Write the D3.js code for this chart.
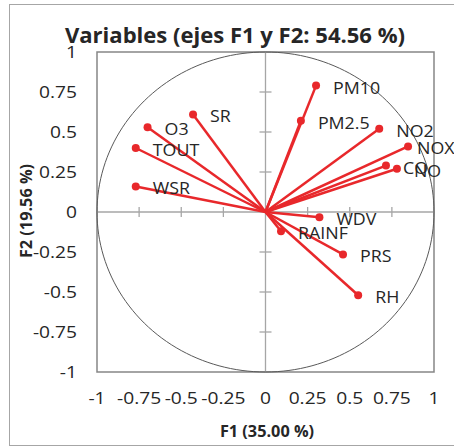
<!DOCTYPE html>
<html>
<head>
<meta charset="utf-8">
<script src="https://cdn.jsdelivr.net/npm/d3@7"></script>
<style>
  html, body { margin: 0; padding: 0; background: #ffffff; }
  svg { display: block; }
  text { font-family: "Open Sans", "DejaVu Sans", sans-serif; fill: #262626; }
</style>
</head>
<body>
<svg id="chart" width="454" height="447"></svg>
<script>
// ---- data ----
const variables = ["SR", "O3", "TOUT", "WSR", "PM10", "PM2.5", "NO2", "NOX", "CO", "NO", "WDV", "RAINF", "PRS", "RH"];
const f1Values = [-0.43, -0.70, -0.77, -0.77, 0.30, 0.21, 0.675, 0.846, 0.715, 0.78, 0.32, 0.092, 0.46, 0.55];
const f2Values = [0.61, 0.53, 0.40, 0.16, 0.79, 0.57, 0.52, 0.41, 0.29, 0.27, -0.033, -0.12, -0.265, -0.52];
const tickValues = [-1, -0.75, -0.5, -0.25, 0, 0.25, 0.5, 0.75, 1];
const tickLabels = ["-1", "-0.75", "-0.5", "-0.25", "0", "0.25", "0.5", "0.75", "1"];
const titleText = "Variables (ejes F1 y F2: 54.56 %)";
const xTitle = "F1 (35.00 %)";
const yTitle = "F2 (19.56 %)";

// ---- layout ----
const svg = d3.select("#chart");
const plot = { left: 97, right: 434, top: 52, bottom: 372 };
const x = d3.scaleLinear().domain([-1, 1]).range([plot.left, plot.right]);
const y = d3.scaleLinear().domain([-1, 1]).range([plot.bottom, plot.top]);
const red = "#e8282b";
const sx = 1.2; // horizontal text stretch

// outer frame
svg.append("rect")
  .attr("x", 9.5).attr("y", 4.5).attr("width", 470).attr("height", 441)
  .attr("fill", "none").attr("stroke", "#a6a6a6").attr("stroke-width", 1);

// plot border
svg.append("rect")
  .attr("x", plot.left).attr("y", plot.top)
  .attr("width", plot.right - plot.left).attr("height", plot.bottom - plot.top)
  .attr("fill", "none").attr("stroke", "#868686").attr("stroke-width", 1.5);

// zero axes with crossing ticks
const g0 = svg.append("g").attr("stroke", "#a6a6a6").attr("stroke-width", 1.3);
g0.append("line").attr("x1", x(-1)).attr("x2", x(1)).attr("y1", y(0)).attr("y2", y(0));
g0.append("line").attr("x1", x(0)).attr("x2", x(0)).attr("y1", y(-1)).attr("y2", y(1));
g0.selectAll(".tx").data(tickValues.filter(v => Math.abs(v) < 1 && v !== 0)).join("line")
  .attr("x1", d => x(d)).attr("x2", d => x(d)).attr("y1", y(0) - 5).attr("y2", y(0) + 5);
g0.selectAll(".ty").data(tickValues.filter(v => Math.abs(v) < 1 && v !== 0)).join("line")
  .attr("class", "ty")
  .attr("x1", x(0) - 6).attr("x2", x(0) + 6).attr("y1", d => y(d)).attr("y2", d => y(d));

// correlation circle
const circ = d3.range(0, 361, 2).map(a => [Math.cos(a * Math.PI / 180), Math.sin(a * Math.PI / 180)]);
svg.append("path")
  .attr("d", d3.line().x(d => x(d[0])).y(d => y(d[1])).curve(d3.curveLinearClosed)(circ))
  .attr("fill", "none").attr("stroke", "#595959").attr("stroke-width", 1);

// tick labels
svg.append("g").selectAll("text").data(tickValues).join("text")
  .attr("transform", d => `translate(77,${y(d)}) scale(${sx},1)`)
  .attr("text-anchor", "end").attr("dominant-baseline", "central")
  .attr("font-size", 16)
  .text((d, i) => tickLabels[i]);
svg.append("g").selectAll("text").data(tickValues).join("text")
  .attr("transform", d => `translate(${x(d)},398) scale(${sx},1)`)
  .attr("text-anchor", "middle").attr("dominant-baseline", "central")
  .attr("font-size", 16)
  .text((d, i) => tickLabels[i]);

// titles
svg.append("text")
  .attr("transform", `translate(235,43) scale(1.05,1)`)
  .attr("text-anchor", "middle").attr("font-size", 21).attr("font-weight", "bold")
  .text(titleText);
svg.append("text")
  .attr("transform", `translate(267,431) scale(1.05,1)`)
  .attr("text-anchor", "middle").attr("dominant-baseline", "central")
  .attr("font-size", 15.5).attr("font-weight", "bold")
  .text(xTitle);
svg.append("text")
  .attr("transform", `translate(26,211) rotate(-90) scale(1.05,1)`)
  .attr("text-anchor", "middle").attr("dominant-baseline", "central")
  .attr("font-size", 15.5).attr("font-weight", "bold")
  .text(yTitle);

// vectors
const pts = variables.map((v, i) => ({ name: v, f1: f1Values[i], f2: f2Values[i] }));
svg.append("g").selectAll("line").data(pts).join("line")
  .attr("x1", x(0)).attr("y1", y(0))
  .attr("x2", d => x(d.f1)).attr("y2", d => y(d.f2))
  .attr("stroke", red).attr("stroke-width", 2.5);
svg.append("g").selectAll("circle").data(pts).join("circle")
  .attr("cx", d => x(d.f1)).attr("cy", d => y(d.f2)).attr("r", 4)
  .attr("fill", red);

// labels (default placed to the right of the point)
const labelShift = { "NOX": -8 };
svg.append("g").selectAll("text").data(pts).join("text")
  .attr("transform", d => `translate(${x(d.f1) + 17 + (labelShift[d.name] || 0)},${y(d.f2) + 2}) scale(1.15,1)`)
  .attr("dominant-baseline", "central")
  .attr("font-size", 15.5)
  .text(d => d.name);
</script>
</body>
</html>
